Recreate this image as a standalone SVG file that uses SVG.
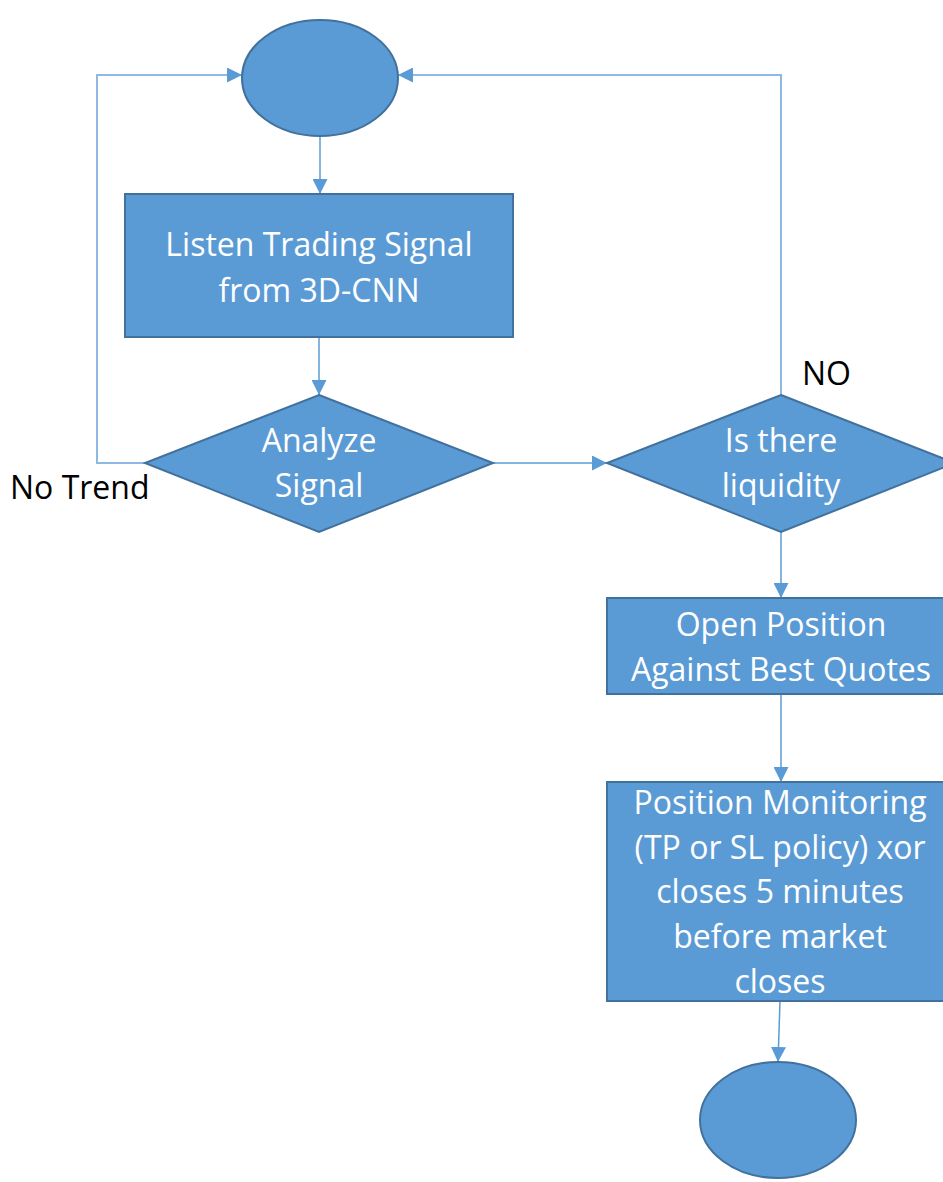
<svg xmlns="http://www.w3.org/2000/svg" width="943" height="1182" viewBox="0 0 943 1182">
<style>
.n{fill:#5B9BD5;stroke:#41719C;stroke-width:2}
.t{font-family:"Open Sans",Lato,sans-serif;font-size:32px;fill:#fff;text-anchor:middle}
.l{font-family:"Open Sans",Lato,sans-serif;font-size:32px;fill:#000}
.c{fill:none;stroke:#5B9BD5;stroke-width:1.5}
.c2{fill:none;stroke:#8DB9E2;stroke-width:2}
</style>
<defs>
<marker id="a" viewBox="0 0 10 10" refX="10" refY="5" markerWidth="15" markerHeight="15" markerUnits="userSpaceOnUse" orient="auto">
<path d="M0,0 L10,5 L0,10 z" fill="#5B9BD5"/>
</marker>
</defs>
<g id="connectors">
<path class="c" d="M320,137 V194" marker-end="url(#a)"/>
<path class="c" d="M319,338 V395" marker-end="url(#a)"/>
<path class="c2" d="M145,463 H97 V75 H242" marker-end="url(#a)"/>
<path class="c" d="M493,463 H607" marker-end="url(#a)"/>
<path class="c2" d="M781,395 V75 H398" marker-end="url(#a)"/>
<path class="c" d="M781,532 V598" marker-end="url(#a)"/>
<path class="c" d="M781,694 V782" marker-end="url(#a)"/>
<path class="c" d="M780,1001 L778,1062" marker-end="url(#a)"/>
</g>
<g id="start"><ellipse class="n" cx="320" cy="78" rx="78" ry="58"/></g>
<g id="listen">
<rect class="n" x="125" y="194" width="388" height="143"/>
<text class="t" x="319" y="256">Listen Trading Signal</text>
<text class="t" x="319" y="302">from 3D-CNN</text>
</g>
<g id="analyze">
<polygon class="n" points="319,395 493,463 319,532 145,463"/>
<text class="t" x="319" y="452">Analyze</text>
<text class="t" x="319" y="497">Signal</text>
</g>
<g id="liquidity">
<polygon class="n" points="781,395 955,463 781,532 607,463"/>
<text class="t" x="781" y="452">Is there</text>
<text class="t" x="781" y="497">liquidity</text>
</g>
<g id="open">
<rect class="n" x="607" y="598" width="348" height="96"/>
<text class="t" x="781" y="636">Open Position</text>
<text class="t" x="781" y="681">Against Best Quotes</text>
</g>
<g id="monitor">
<rect class="n" x="607" y="782" width="348" height="219"/>
<text class="t" x="780" y="814">Position Monitoring</text>
<text class="t" x="780" y="859">(TP or SL policy) xor</text>
<text class="t" x="780" y="903">closes 5 minutes</text>
<text class="t" x="780" y="948">before market</text>
<text class="t" x="780" y="993">closes</text>
</g>
<g id="end"><ellipse class="n" cx="778" cy="1120" rx="78" ry="58"/></g>
<g id="labels">
<text class="l" x="802" y="385">NO</text>
<text class="l" x="10" y="499">No Trend</text>
</g>
</svg>
